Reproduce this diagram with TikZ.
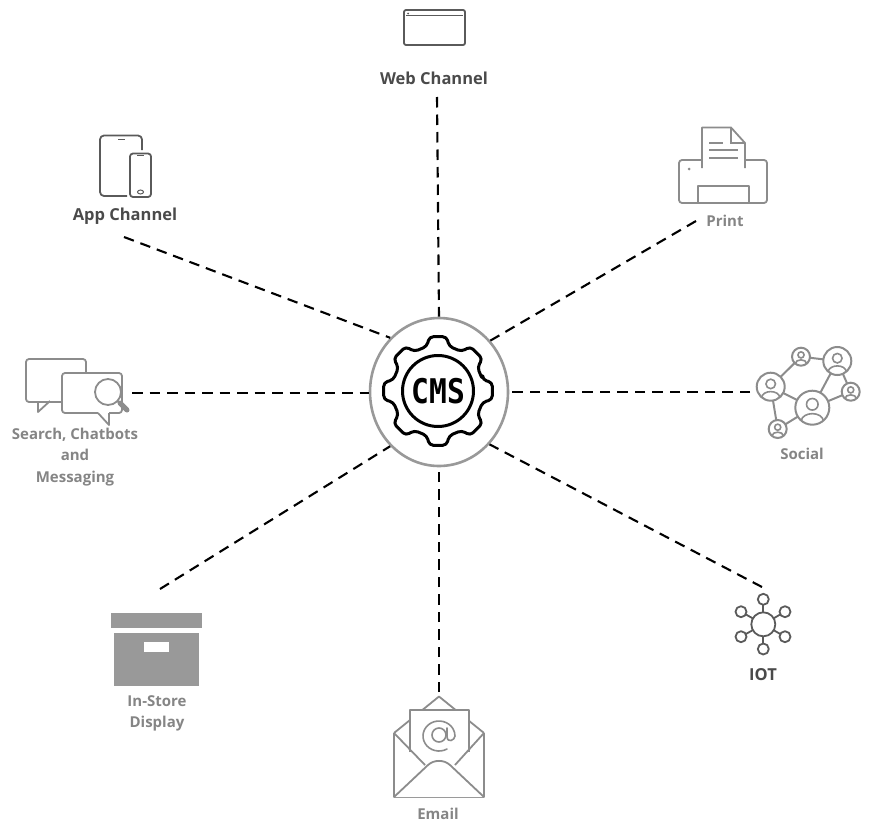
\documentclass[tikz,border=0pt]{standalone}
\usepackage{fontspec}
\setmainfont{Open Sans}
\newfontfamily\cmsfont{DejaVu Sans Mono}
\usetikzlibrary{shapes.geometric}
\definecolor{dk}{HTML}{5A5A5A}
\definecolor{md}{HTML}{8C8C8C}
\definecolor{txtd}{HTML}{4A4A4A}
\definecolor{txtm}{HTML}{858585}
\definecolor{boxg}{HTML}{999999}
\tikzset{
 conn/.style={black,line width=2.1,dash pattern=on 10.5 off 7},
 lab/.style={font=\fontsize{15}{21.5}\selectfont\bfseries,align=center,inner sep=0},
 labd/.style={lab,font=\fontsize{16.5}{21.5}\selectfont\bfseries,text=txtd},
 labm/.style={lab,text=txtm},
 icd/.style={draw=dk,line width=1.8,line join=round},
 icm/.style={draw=md,line width=1.8,line join=round},
}
\newcommand{\personicon}[3]{%
 \begin{scope}
 \path[fill=white,draw=md,line width=2] (#1,#2) circle (#3);
 \clip (#1,#2) circle (#3);
 \draw[md,line width=1.6] (#1,#2-0.2*#3) circle (0.34*#3);
 \draw[md,line width=1.6] (#1-0.66*#3,#2+0.8*#3) .. controls (#1-0.6*#3,#2+0.2*#3) and (#1+0.6*#3,#2+0.2*#3) .. (#1+0.66*#3,#2+0.8*#3);
 \end{scope}}
\begin{document}
\begin{tikzpicture}[x=1pt,y=-1pt]
\useasboundingbox (0,0) rectangle (875,835);
% hub
\node[ellipse,draw=boxg,fill=white,line width=2.6,minimum width=138,minimum height=148,inner sep=0] (hub) at (439,392) {};
\node[font=\fontsize{34}{34}\selectfont\cmsfont\bfseries,xscale=0.87,inner sep=0,text=black] (cms) at (438.5,391) {CMS};
\begin{scope}[shift={(438,391)}]
 \draw[black,line width=3] (0,0) circle (35.5);
 \draw[black,line width=3,rounded corners=4,line join=round] (-14:46)
 \foreach \a in {0,45,...,315}{ -- (\a-14:46) -- (\a-9:55) -- (\a+9:55) -- (\a+14:46) } -- cycle;
\end{scope}
% free ends
\coordinate (eweb) at (437,97);
\coordinate (eapp) at (124,237);
\coordinate (eprint) at (696,221);
\coordinate (esearch) at (132,393);
\coordinate (esocial) at (750,392);
\coordinate (estore) at (160,589);
\coordinate (eemail) at (439,692);
\coordinate (eiot) at (762,587);
\draw[conn] (eweb) -- (hub.north);
\draw[conn] (eapp) -- (hub.132);
\draw[conn] (eprint) -- (hub.45);
\draw[conn] (esearch) -- (hub.west |- esearch);
\draw[conn] (esocial) -- (hub.east);
\draw[conn] (estore) -- (hub.228);
\draw[conn] (eemail) -- (hub.south);
\draw[conn] (eiot) -- (hub.-46);
% web
\draw[icd,rounded corners=2] (404,10) rectangle (465,45);
\draw[dk,line width=1.3] (406,15.8) -- (463,15.8);
\fill[dk] (408,13.5) circle (1);
\node[labd] (lweb) at (434,78.5) {Web Channel};
% app
\draw[icd,rounded corners=4] (142,150) -- (142,135.5) -- (100,135.5) -- (100,196) -- (127,196);
\draw[icd,rounded corners=3] (130,153.5) rectangle (151,197);
\draw[dk,line width=1.5] (118,139.5) -- (125,139.5);
\draw[dk,line width=1.2] (137,155.5) -- (144,155.5);
\draw[dk,line width=1] (140.5,192) ellipse (3 and 2);
\node[labd] (lapp) at (125,216) {App Channel};
% print
\draw[icm,rounded corners=3] (679,160) rectangle (767,203);
\draw[icm,fill=white] (702,168) -- (702,127.5) -- (731,127.5) -- (745,143) -- (745,168);
\draw[md,line width=1.5] (731,127.5) -- (731,143) -- (745,143);
\draw[md,line width=1.5] (709,143) -- (723,143) (709,150) -- (738,150) (709,158) -- (738,158);
\draw[icm] (698,203) -- (698,186) -- (749,186) -- (749,203);
\fill[md] (689,169) circle (1.5);
\node[labm] (lprint) at (725,220.5) {Print};
% search
\draw[icm,rounded corners=3] (62,402) -- (26,402) -- (26,359) -- (86,359) -- (86,373);
\draw[icm] (38,401) -- (38,412) -- (50,401);
\draw[icm,rounded corners=3] (98,413) -- (62,413) -- (62,373) -- (122,373) -- (122,413) -- (109,413);
\draw[icm] (98,413) -- (109,425) -- (109,413);
\draw[md,line width=5,line cap=round] (120,403) -- (127,410);
\draw[md,line width=2] (116,400) -- (120,403);
\draw[icm,fill=white] (108,392) circle (13);
\node[labm] (lsearch) at (75,457) {Search, Chatbots\\and\\Messaging};
% social
\draw[md,line width=2] (770.7,386.7) -- (801,356.7) -- (837.3,361) -- (812.3,407.7) -- (770.7,386.7) -- (777.7,429) -- (812.3,407.7) -- (850.7,391.7) -- (837.3,361);
\personicon{770.7}{386.7}{14}
\personicon{801}{356.7}{9}
\personicon{837.3}{361}{14}
\personicon{850.7}{391.7}{9}
\personicon{812.3}{407.7}{17}
\personicon{777.7}{429}{9}
\node[labm] (lsocial) at (802,454) {Social};
% store
\fill[boxg] (110.7,613.3) rectangle (202.3,627.7);
\fill[boxg] (114,632.7) rectangle (199.3,685.7);
\fill[white] (144.3,642.3) rectangle (169,651.7);
\node[labm] (lstore) at (157,713.5) {In-Store\\Display};
% email
\draw[icm] (394,733) -- (439,696.5) -- (484,733);
\draw[icm,fill=white] (410,752) -- (410,710) -- (469,710) -- (469,752);
\draw[icm] (394,733) -- (425,765) (484,733) -- (455,765);
\draw[icm] (394,733) -- (394,797) -- (484,797) -- (484,733);
\draw[icm,fill=white] (394,797) -- (428,765) .. controls (434,759.5) and (444,759.5) .. (450,765) -- (484,797);
\draw[md,line width=1.6] (439,735) circle (7);
\draw[md,line width=1.6,line cap=round] (447,749) arc (60:360:16 and 15) .. controls (455,740) and (447,744) .. (447,736) -- (447,728);
\node[labm] (lemail) at (438,814) {Email};
% iot
\foreach \p/\q in {763.3/599.3,741/611.7,785/611.7,741/636.7,785/636.7,763.3/649}{
 \draw[dk,line width=1.8] (763.3,624.3) -- (\p,\q);
 \draw[icd,fill=white] (\p,\q) circle (5.5);
}
\draw[icd,fill=white] (763.3,624.3) circle (12);
\node[labd] (liot) at (763,675) {IOT};
\end{tikzpicture}
\end{document}
